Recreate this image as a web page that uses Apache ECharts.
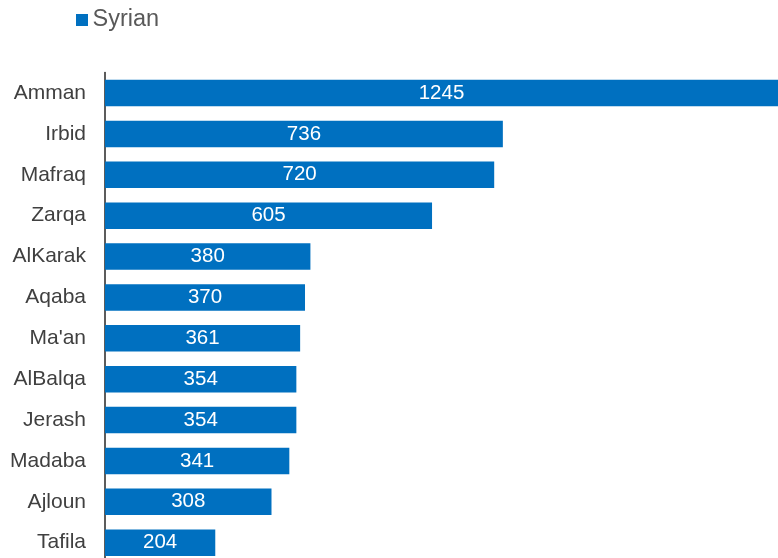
<!DOCTYPE html>
<html>
<head>
<meta charset="utf-8">
<script src="https://cdn.jsdelivr.net/npm/echarts@6/dist/echarts.min.js"></script>
<style>
html,body{margin:0;padding:0;background:#fff;}
#chart{width:778px;height:558px;}
</style>
</head>
<body>
<div id="chart"></div>
<script>
// Governorates, top to bottom
const categories = ['Amman','Irbid','Mafraq','Zarqa','AlKarak','Aqaba',"Ma'an",'AlBalqa','Jerash','Madaba','Ajloun','Tafila'];
const syrian = [1245, 736, 720, 605, 380, 370, 361, 354, 354, 341, 308, 204];

const chart = echarts.init(document.getElementById('chart'));
chart.setOption({
  animation: false,
  textStyle: { fontFamily: 'Liberation Sans, Arial, sans-serif' },
  legend: {
    data: ['Syrian'],
    left: 76,
    top: 8,
    padding: 0,
    itemWidth: 12,
    itemHeight: 12,
    itemGap: 5,
    icon: 'rect',
    textStyle: { fontSize: 23.5, color: '#595959', padding: [0, 0, 0, -0.5] }
  },
  // last row runs past the bottom edge of the canvas
  grid: { left: 105, right: 0, top: 72.6, height: 490.5, outerBoundsMode: 'none' },
  xAxis: {
    type: 'value',
    min: 0,
    max: 1245,
    show: false
  },
  yAxis: {
    type: 'category',
    data: categories,
    inverse: true,
    axisLine: { show: true, lineStyle: { color: '#262626', width: 1.5 } },
    axisTick: { show: false },
    axisLabel: { fontSize: 21, color: '#404040', margin: 19 }
  },
  series: [{
    name: 'Syrian',
    type: 'bar',
    data: syrian,
    barWidth: '65%',
    itemStyle: { color: '#0070C0' },
    label: {
      show: true,
      position: 'inside',
      color: '#ffffff',
      fontSize: 20.5
    }
  }]
});
</script>
</body>
</html>
